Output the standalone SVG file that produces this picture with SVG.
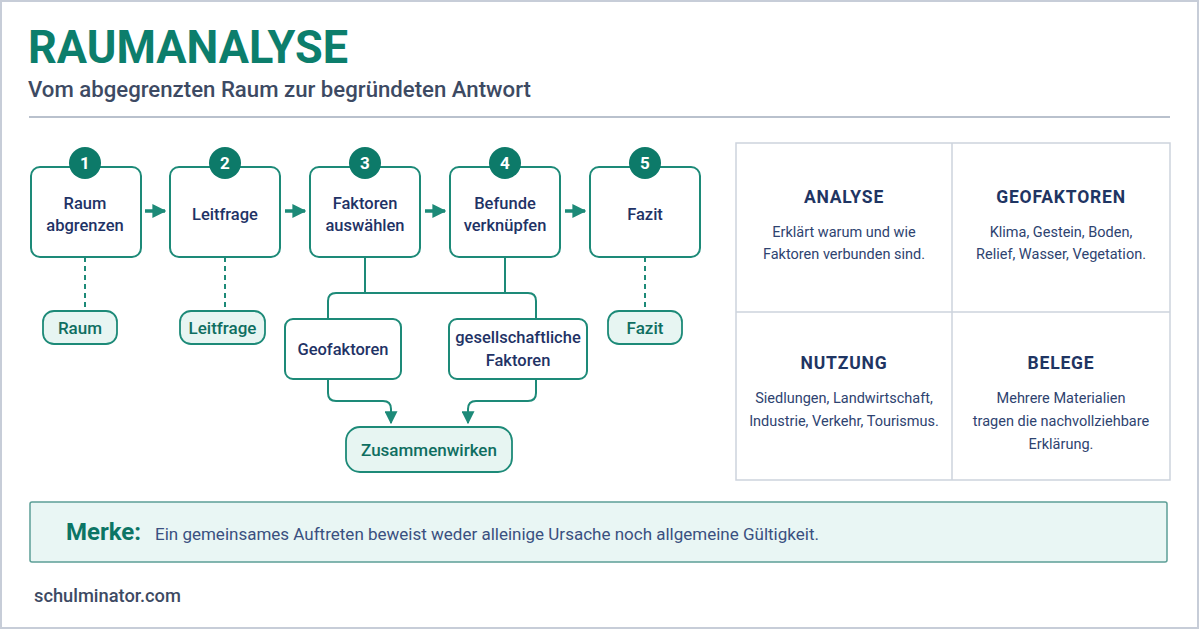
<svg xmlns="http://www.w3.org/2000/svg" width="1200" height="630" viewBox="0 0 1200 630">
<defs>
<style>
text{font-family:Roboto,"Liberation Sans",sans-serif}
.box{fill:#fff;stroke:#1d8a78;stroke-width:2}
.pill{fill:#e7f5f2;stroke:#1d8a78;stroke-width:1.8}
.num{fill:#fff;font-weight:700;font-size:17px;text-anchor:middle}
.lbl{fill:#1f3366;font-size:16.5px;font-weight:500;text-anchor:middle}
.plbl{fill:#0f6e61;font-size:17px;font-weight:500;text-anchor:middle}
.con{fill:none;stroke:#1d8a78;stroke-width:2}
.dash{fill:none;stroke:#1d8a78;stroke-width:2;stroke-dasharray:5 4}
.flow{fill:none;stroke:#1d8a78;stroke-width:3.5}
.h{fill:#1f3563;font-size:17.5px;font-weight:700;text-anchor:middle;letter-spacing:0.8px}
.b{fill:#2e4370;font-size:14.5px;text-anchor:middle}
</style>
<marker id="ah" viewBox="0 0 10 10" refX="9" refY="5" markerWidth="4" markerHeight="4" markerUnits="strokeWidth" orient="auto"><path d="M0,0 L10,5 L0,10 z" fill="#1d8a78"/></marker>
<marker id="ad" viewBox="0 0 10 10" refX="9" refY="5" markerWidth="6.5" markerHeight="6.5" markerUnits="strokeWidth" orient="auto"><path d="M0,0 L10,5 L0,10 z" fill="#1d8a78"/></marker>
</defs>
<rect x="0" y="0" width="1200" height="630" fill="#fff"/>
<rect x="1" y="1" width="1197" height="627" fill="none" stroke="#c7cdd8" stroke-width="2"/>
<g id="header">
<text x="28" y="63" font-size="47" font-weight="700" fill="#0c7e6c" textLength="320" lengthAdjust="spacingAndGlyphs">RAUMANALYSE</text>
<text x="28" y="97" font-size="22.2" font-weight="500" fill="#3d4a63">Vom abgegrenzten Raum zur begründeten Antwort</text>
<line x1="29" y1="117" x2="1170" y2="117" stroke="#b9c1cd" stroke-width="2"/>
</g>
<g id="connectors">
<path class="flow" d="M145 211 H165" marker-end="url(#ah)"/>
<path class="flow" d="M285 211 H305" marker-end="url(#ah)"/>
<path class="flow" d="M425 211 H445" marker-end="url(#ah)"/>
<path class="flow" d="M565 211 H585" marker-end="url(#ah)"/>
<path class="dash" d="M85 257 V311"/>
<path class="dash" d="M225 257 V311"/>
<path class="dash" d="M645 257 V311"/>
<path class="con" d="M365 257 V293 M505 257 V293"/>
<path class="con" d="M328 319 V301 Q328 293 336 293 H528 Q536 293 536 301 V319"/>
<path class="con" d="M328 379 V393 Q328 401 336 401 H383 Q391 401 391 409 V423" marker-end="url(#ad)"/>
<path class="con" d="M536 379 V393 Q536 401 528 401 H476 Q468 401 468 409 V423" marker-end="url(#ad)"/>
</g>
<g id="step1">
<rect class="box" x="31" y="167" width="110" height="90" rx="9"/>
<circle cx="85" cy="163" r="16" fill="#0d7a69"/>
<text class="num" x="85" y="169">1</text>
<text class="lbl" x="85" y="209">Raum</text>
<text class="lbl" x="85" y="231">abgrenzen</text>
</g>
<g id="step2">
<rect class="box" x="170" y="167" width="110" height="90" rx="9"/>
<circle cx="225" cy="163" r="16" fill="#0d7a69"/>
<text class="num" x="225" y="169">2</text>
<text class="lbl" x="225" y="220">Leitfrage</text>
</g>
<g id="step3">
<rect class="box" x="310" y="167" width="110" height="90" rx="9"/>
<circle cx="365" cy="163" r="16" fill="#0d7a69"/>
<text class="num" x="365" y="169">3</text>
<text class="lbl" x="365" y="209">Faktoren</text>
<text class="lbl" x="365" y="231">auswählen</text>
</g>
<g id="step4">
<rect class="box" x="450" y="167" width="110" height="90" rx="9"/>
<circle cx="505" cy="163" r="16" fill="#0d7a69"/>
<text class="num" x="505" y="169">4</text>
<text class="lbl" x="505" y="209">Befunde</text>
<text class="lbl" x="505" y="231">verknüpfen</text>
</g>
<g id="step5">
<rect class="box" x="590" y="167" width="110" height="90" rx="9"/>
<circle cx="645" cy="163" r="16" fill="#0d7a69"/>
<text class="num" x="645" y="169">5</text>
<text class="lbl" x="645" y="220">Fazit</text>
</g>
<g id="pill-raum">
<rect class="pill" x="43" y="311" width="74" height="33" rx="11"/>
<text class="plbl" x="80" y="334">Raum</text>
</g>
<g id="pill-leitfrage">
<rect class="pill" x="180" y="311" width="85" height="33" rx="11"/>
<text class="plbl" x="222.5" y="334">Leitfrage</text>
</g>
<g id="pill-fazit">
<rect class="pill" x="608" y="311" width="74" height="33" rx="11"/>
<text class="plbl" x="645" y="334">Fazit</text>
</g>
<g id="geofaktoren">
<rect class="box" x="285" y="319" width="116" height="60" rx="8"/>
<text class="lbl" x="343" y="355">Geofaktoren</text>
</g>
<g id="gesellschaftliche">
<rect class="box" x="449" y="319" width="138" height="60" rx="8"/>
<text class="lbl" x="518" y="343">gesellschaftliche</text>
<text class="lbl" x="518" y="366">Faktoren</text>
</g>
<g id="zusammenwirken">
<rect class="pill" x="346" y="427" width="166" height="45" rx="14"/>
<text class="plbl" x="429" y="456">Zusammenwirken</text>
</g>
<g id="grid">
<rect x="736" y="143" width="434" height="337" fill="#fff" stroke="#cdd3dd" stroke-width="1.5"/>
<line x1="952" y1="143" x2="952" y2="480" stroke="#cdd3dd" stroke-width="1.5"/>
<line x1="736" y1="312" x2="1170" y2="312" stroke="#cdd3dd" stroke-width="1.5"/>
</g>
<g id="cell-analyse">
<text class="h" x="844" y="203">ANALYSE</text>
<text class="b" x="844" y="237">Erklärt warum und wie</text>
<text class="b" x="844" y="259">Faktoren verbunden sind.</text>
</g>
<g id="cell-geofaktoren">
<text class="h" x="1061" y="203">GEOFAKTOREN</text>
<text class="b" x="1061" y="237">Klima, Gestein, Boden,</text>
<text class="b" x="1061" y="259">Relief, Wasser, Vegetation.</text>
</g>
<g id="cell-nutzung">
<text class="h" x="844" y="369">NUTZUNG</text>
<text class="b" x="844" y="403">Siedlungen, Landwirtschaft,</text>
<text class="b" x="844" y="426">Industrie, Verkehr, Tourismus.</text>
</g>
<g id="cell-belege">
<text class="h" x="1061" y="369">BELEGE</text>
<text class="b" x="1061" y="403">Mehrere Materialien</text>
<text class="b" x="1061" y="426">tragen die nachvollziehbare</text>
<text class="b" x="1061" y="449">Erklärung.</text>
</g>
<g id="merke">
<rect x="30" y="502" width="1137" height="60" rx="2" fill="#e9f6f4" stroke="#5c9f96" stroke-width="1.5"/>
<text x="66" y="540" font-size="24" font-weight="700" fill="#0c7565">Merke:</text>
<text x="155" y="540" font-size="17" fill="#3a5080">Ein gemeinsames Auftreten beweist weder alleinige Ursache noch allgemeine Gültigkeit.</text>
</g>
<g id="footer">
<text x="34" y="602" font-size="18.3" font-weight="500" fill="#3d4a63">schulminator.com</text>
</g>
</svg>
